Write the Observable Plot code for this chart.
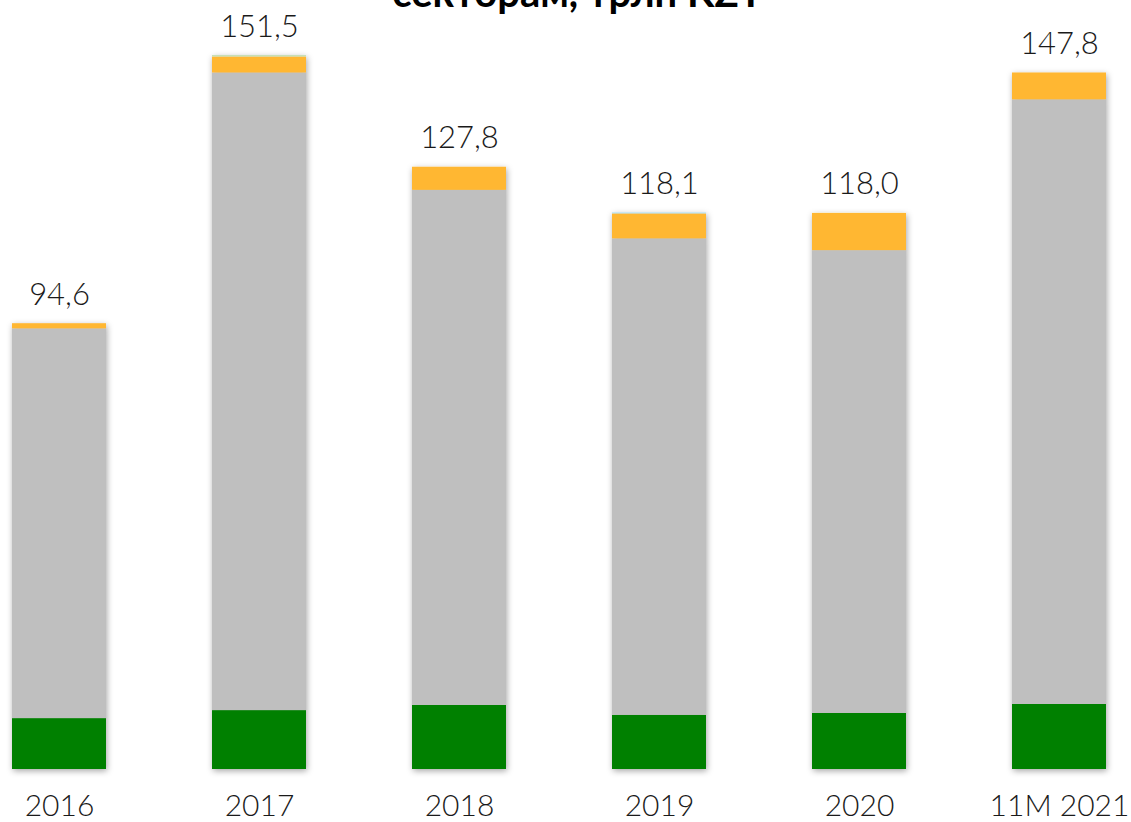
<!DOCTYPE html>
<html>
<head>
<meta charset="utf-8">
<script src="https://cdn.jsdelivr.net/npm/d3@7"></script>
<script src="https://cdn.jsdelivr.net/npm/@observablehq/plot@0.6"></script>
<style>
  html, body { margin: 0; padding: 0; background: #fff; overflow: hidden; }
  #wrap { position: relative; width: 1131px; height: 822px; }
  #title { position: absolute; left: 0; width: 1131px; top: -32px; text-align: center;
           font-family: Lato, "Open Sans", sans-serif; font-weight: 700; font-size: 40px; color: #000;
           padding-left: 12px; white-space: nowrap; }
</style>
</head>
<body>
<div id="wrap">
  <div id="title">секторам, трлн KZT</div>
  <div id="chart"></div>
</div>
<script>
const categories = ["2016", "2017", "2018", "2019", "2020", "11M 2021"];
const totals = [94.6, 151.5, 127.8, 118.1, 118.0, 147.8];
const totalLabels = ["94,6", "151,5", "127,8", "118,1", "118,0", "147,8"];
const seriesNames = ["s1", "s2", "s3", "s4", "s5"];
const s1 = [10.8, 12.5, 13.6, 11.5, 11.9, 13.8];   // green
const s2 = [82.7, 135.3, 109.3, 101.1, 98.2, 128.3]; // gray
const s3 = [1.1, 3.4, 4.9, 5.3, 7.9, 5.7];           // orange
const s4 = [0, 0.3, 0, 0, 0, 0];                     // light green
const s5 = [0, 0, 0, 0.2, 0, 0];                     // light blue
const colors = ["#008000", "#bfbfbf", "#ffb733", "#c5e0b4", "#a8dcf0"];

const seriesValues = [s1, s2, s3, s4, s5];
const rows = [];
categories.forEach((c, i) => {
  seriesNames.forEach((s, k) => rows.push({cat: c, series: s, value: seriesValues[k][i]}));
});
const totalRows = categories.map((c, i) => ({cat: c, total: totals[i], label: totalLabels[i]}));

const chart = Plot.plot({
  width: 1131,
  height: 822,
  marginTop: 15,
  marginBottom: 53,
  marginLeft: 12,
  marginRight: 25,
  style: {fontFamily: "Lato, 'Open Sans', sans-serif", background: "transparent"},
  x: {domain: categories, paddingInner: 0.53, paddingOuter: 0, label: null},
  y: {domain: [0, 160], axis: null},
  color: {domain: seriesNames, range: colors},
  marks: [
    Plot.barY(rows, Plot.stackY({x: "cat", y: "value", fill: "series", order: seriesNames})),
    Plot.text(totalRows, {x: "cat", y: "total", text: "label", dy: -19, lineAnchor: "bottom",
      fontSize: 31, fontWeight: 300, fill: "#1a1a1a"}),
    Plot.axisX({tickSize: 0, tickPadding: 25, fontSize: 30, fontWeight: 300, color: "#1a1a1a", label: null})
  ]
});
document.getElementById("chart").appendChild(chart);

// soft shadow on bars
const svg = d3.select(chart);
const defs = svg.insert("defs", ":first-child");
const f = defs.append("filter").attr("id", "barshadow").attr("x", "-20%").attr("y", "-5%").attr("width", "140%").attr("height", "110%");
f.append("feDropShadow").attr("dx", 1).attr("dy", 2).attr("stdDeviation", 3).attr("flood-color", "#000").attr("flood-opacity", 0.35);
svg.selectAll("g[aria-label='bar']").attr("filter", "url(#barshadow)");
svg.selectAll("g[aria-label='x-axis tick label'] text, g[aria-label='text'] text").attr("font-weight", 300);
</script>
</body>
</html>
